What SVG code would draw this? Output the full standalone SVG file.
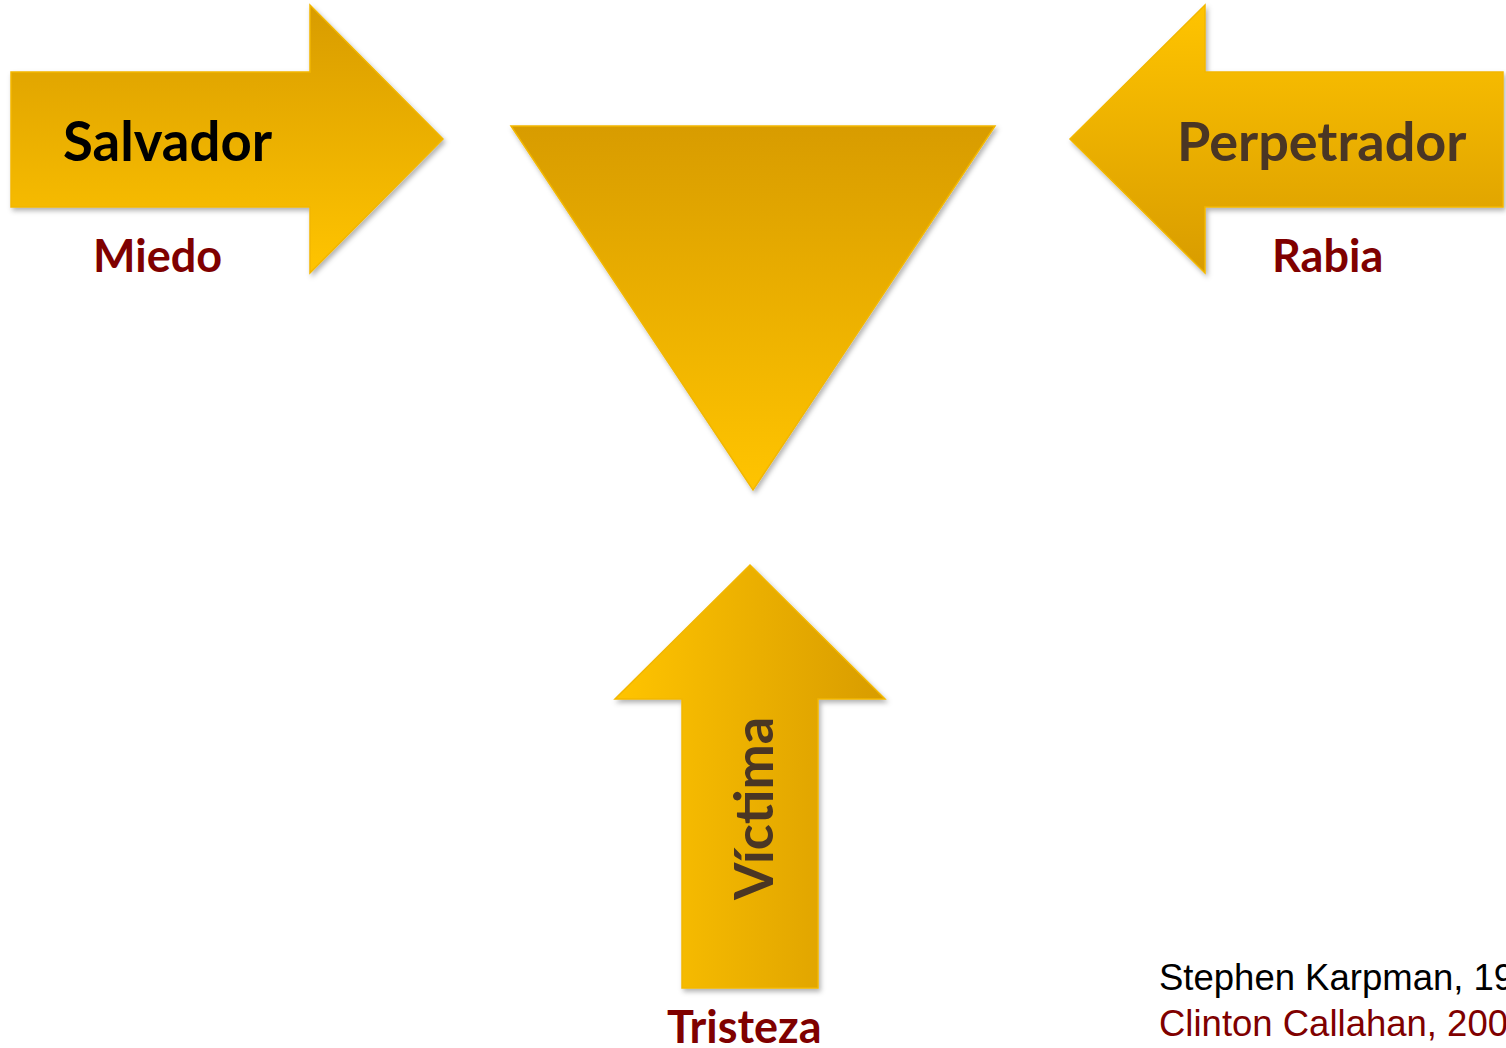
<svg xmlns="http://www.w3.org/2000/svg" width="1506" height="1048" viewBox="0 0 1506 1048">
<defs>
<linearGradient id="gDown" x1="0" y1="0" x2="0" y2="1">
<stop offset="0" stop-color="#D89C00"/><stop offset="1" stop-color="#FFC400"/>
</linearGradient>
<linearGradient id="gUp" x1="0" y1="0" x2="0" y2="1">
<stop offset="0" stop-color="#FFC400"/><stop offset="1" stop-color="#D89C00"/>
</linearGradient>
<linearGradient id="gRight" x1="0" y1="0" x2="1" y2="0">
<stop offset="0" stop-color="#FFC400"/><stop offset="1" stop-color="#D89C00"/>
</linearGradient>
<filter id="sh" x="-10%" y="-10%" width="125%" height="125%">
<feDropShadow dx="2" dy="3" stdDeviation="2.5" flood-color="#000" flood-opacity="0.3"/>
</filter>
<style>
.shape{stroke:#F2B700;stroke-width:1.5;filter:url(#sh)}
.lbl{font-family:Lato,"Open Sans","DejaVu Sans",sans-serif;font-weight:bold}
.emo{font-family:Lato,"Open Sans","DejaVu Sans",sans-serif;font-weight:bold;fill:#7F0000;font-size:45px}
.cite{font-family:"Liberation Sans",Arial,sans-serif;font-size:36.5px}
</style>
</defs>
<rect width="1506" height="1048" fill="#fff"/>
<g id="salvador">
<path class="shape" fill="url(#gDown)" d="M11,72 H310 V5 L443,139 L310,273 V207 H11 Z"/>
<text class="lbl" x="63" y="161" font-size="54.5" fill="#000">Salvador</text>
</g>
<g id="perpetrador">
<path class="shape" fill="url(#gUp)" d="M1503,72 H1205 V5 L1070,139 L1205,273 V207 H1503 Z"/>
<text class="lbl" x="1177" y="161" font-size="54" fill="#4A3624">Perpetrador</text>
</g>
<g id="triangulo">
<path class="shape" fill="url(#gDown)" d="M511,126 H995 L753,490 Z"/>
</g>
<g id="victima">
<path class="shape" fill="url(#gRight)" d="M750,565 L885,699 H818 V988 H682 V699 H615 Z"/>
<text class="lbl" transform="translate(773,900) rotate(-90)" x="0" y="0" font-size="54" fill="#4A3624">Víctima</text>
</g>
<g id="emociones">
<text class="emo" x="93" y="272">Miedo</text>
<text class="emo" x="1272" y="272">Rabia</text>
<text class="emo" x="667" y="1043">Tristeza</text>
</g>
<g id="citas">
<text class="cite" x="1159" y="990" fill="#000">Stephen Karpman, 1968</text>
<text class="cite" x="1159" y="1036" fill="#7F0000">Clinton Callahan, 2003</text>
</g>
<g id="connectors"/>
</svg>
